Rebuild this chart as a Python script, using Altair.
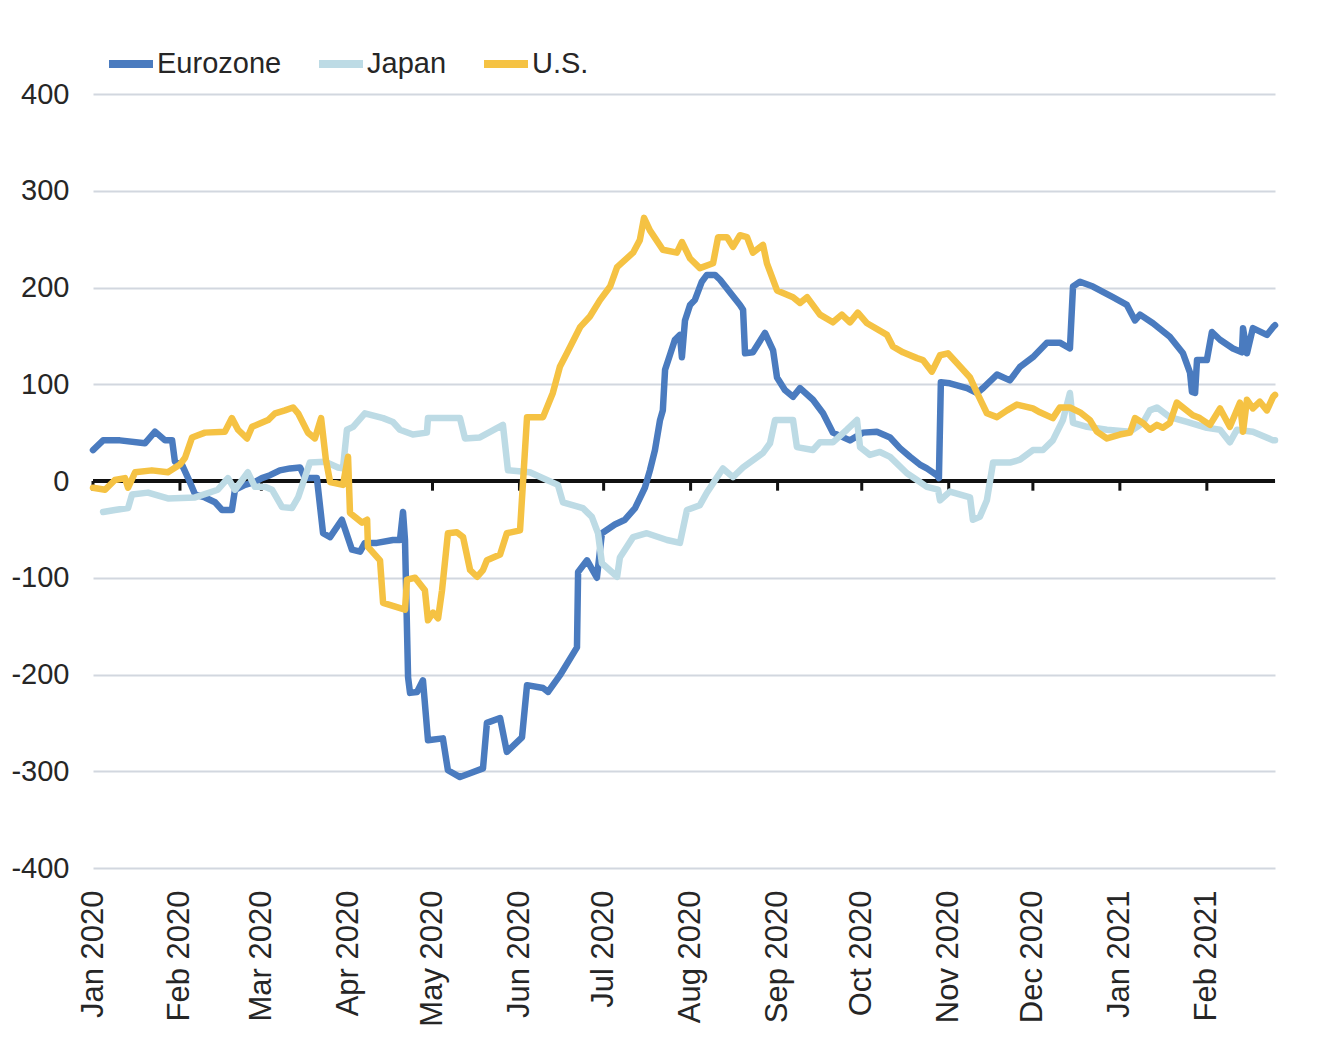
import altair as alt
import pandas as pd

START = pd.Timestamp("2020-01-01")

series_names = ["Eurozone", "Japan", "U.S."]
series_colors = ["#4a7bbf", "#bddbe5", "#f5c243"]

# days since 1 Jan 2020
euro_days = [0.0, 3.6, 9.6, 18.5, 22.1, 25.7, 28.2, 29.2, 31.7, 33.9, 36.4, 39.9, 43.5, 46.0, 49.5, 50.6, 54.2, 57.7, 60.2, 63.1,
             66.6, 70.2, 73.8, 75.6, 79.8, 82.0, 84.5, 88.7, 92.3, 95.2, 96.9, 101.2, 106.9, 109.4, 110.5, 111.2, 112.3, 113.0, 115.5, 117.6,
             119.4, 124.7, 126.5, 130.8, 134.4, 139.0, 140.4, 145.1, 147.5, 152.9, 154.7, 160.4, 162.2, 166.4, 172.5, 172.9, 176.1, 179.6, 181.4, 186.0,
             189.6, 193.2, 196.7, 198.5, 200.3, 202.1, 203.1, 203.9, 205.6, 207.4, 209.2, 209.9, 211.0, 212.8, 214.5, 217.0, 218.8, 221.7, 223.5, 227.0,
             230.6, 231.7, 232.4, 235.2, 239.5, 242.4, 243.8, 246.6, 249.5, 252.0, 256.6, 260.2, 263.7, 269.8, 274.4, 279.4, 284.1, 287.6, 291.2, 294.7,
             297.2, 300.8, 301.5, 302.2, 305.4, 311.5, 315.1, 317.2, 322.2, 326.8, 330.4, 335.0, 340.0, 344.6, 348.2, 349.3, 351.8, 356.4, 363.5, 368.5,
             371.4, 373.2, 377.8, 383.8, 388.5, 391.0, 391.7, 392.8, 393.5, 397.0, 398.8, 401.7, 406.3, 409.5, 409.9, 411.3, 413.4, 418.4, 420.6, 421.3]
euro_vals = [32, 42, 42, 39, 51, 42, 42, 20, 17, 3, -14, -17, -22, -30, -30, -9, -4, -1, 3, 6,
             11, 13, 14, 3, 3, -54, -58, -40, -71, -73, -64, -64, -61, -61, -32, -61, -203, -219, -218, -206,
             -268, -266, -299, -306, -302, -297, -250, -245, -280, -265, -211, -214, -218, -201, -172, -94, -82, -100, -54, -45,
             -40, -28, -7, 11, 32, 63, 73, 115, 130, 146, 151, 128, 166, 182, 187, 206, 213, 213, 208, 195,
             182, 177, 132, 133, 153, 135, 107, 94, 87, 96, 84, 70, 50, 42, 50, 51, 45, 34, 25, 17,
             13, 6, 3, 102, 101, 96, 91, 96, 110, 104, 118, 128, 143, 143, 137, 201, 206, 201, 190, 182,
             166, 172, 163, 149, 132, 112, 92, 91, 125, 125, 154, 146, 137, 133, 158, 132, 158, 151, 159, 161]

japan_days = [3.6, 7.8, 12.5, 13.9, 19.6, 26.7, 36.4, 44.5, 48.1, 50.6, 55.2, 57.7, 61.3, 63.8, 67.4, 70.9, 73.1, 77.3, 82.7, 87.3,
              89.1, 90.5, 92.7, 96.9, 103.4, 106.9, 109.4, 114.0, 119.0, 119.4, 130.8, 132.6, 137.9, 146.1, 147.9, 155.7, 161.8, 165.7, 167.5, 174.6,
              177.8, 180.0, 181.4, 186.8, 187.8, 192.5, 197.4, 204.6, 209.2, 211.7, 216.3, 218.8, 224.5, 228.1, 231.7, 238.8, 241.3, 243.1, 249.5, 250.9,
              256.6, 259.1, 263.7, 268.7, 272.3, 273.4, 276.9, 280.5, 284.1, 290.1, 293.7, 297.2, 301.2, 301.9, 305.4, 312.6, 313.6, 316.1, 318.6, 320.8,
              326.8, 330.4, 335.0, 338.6, 342.1, 345.7, 348.2, 349.3, 354.3, 361.4, 369.6, 374.2, 376.7, 379.2, 383.8, 389.9, 397.0, 401.7, 405.2, 407.7,
              413.4, 420.6, 421.3]
japan_vals = [-32, -30, -28, -14, -12, -18, -17, -9, 3, -9, 9, -6, -6, -9, -27, -28, -17, 19, 20, 14,
              13, 53, 56, 70, 65, 61, 53, 48, 50, 65, 65, 44, 45, 58, 11, 9, 1, -4, -22, -28,
              -37, -54, -85, -99, -79, -58, -54, -61, -64, -30, -25, -12, 13, 4, 14, 29, 39, 63, 63, 35,
              32, 40, 40, 53, 63, 35, 27, 30, 25, 8, 1, -6, -9, -20, -11, -17, -40, -37, -20, 19,
              19, 22, 32, 32, 42, 63, 91, 60, 56, 53, 51, 60, 73, 76, 66, 61, 55, 53, 40, 53,
              51, 42, 42]

us_days = [0.0, 4.3, 7.8, 11.4, 12.5, 15.0, 21.0, 26.7, 31.0, 32.8, 35.3, 39.9, 47.0, 49.5, 51.7, 54.9, 56.7, 62.4, 64.9, 68.4,
           71.3, 73.1, 76.6, 79.1, 81.3, 83.0, 84.5, 89.1, 90.9, 91.6, 95.9, 97.7, 98.0, 102.3, 103.4, 111.2, 111.9, 114.8, 118.3, 119.4,
           121.2, 123.0, 124.4, 126.5, 129.7, 131.9, 134.4, 136.9, 139.0, 140.4, 145.1, 147.5, 152.2, 154.7, 160.4, 163.9, 166.4, 168.9, 173.6, 177.1,
           180.7, 184.3, 186.8, 192.5, 194.9, 196.4, 198.5, 203.1, 208.1, 209.9, 212.8, 216.3, 221.0, 222.8, 226.0, 228.1, 230.6, 233.1, 235.2, 238.8,
           240.2, 243.8, 249.5, 252.0, 254.5, 259.1, 263.7, 266.9, 269.8, 272.6, 275.9, 283.0, 285.1, 288.7, 293.7, 295.8, 299.0, 301.9, 304.7, 307.9,
           312.6, 315.1, 318.6, 322.2, 325.8, 329.3, 335.0, 337.5, 342.1, 344.6, 348.2, 351.8, 355.3, 357.8, 361.4, 366.0, 369.6, 371.4, 374.2, 376.7,
           379.2, 381.3, 383.8, 386.3, 392.0, 394.5, 398.1, 401.7, 405.2, 408.8, 409.9, 411.3, 413.4, 415.9, 418.4, 420.6, 421.3]
us_vals = [-7, -9, 1, 3, -7, 9, 11, 9, 17, 24, 45, 50, 51, 65, 53, 44, 56, 63, 70, 73,
           76, 70, 50, 44, 65, 22, -1, -4, 25, -33, -43, -40, -68, -82, -126, -133, -102, -100, -113, -144,
           -136, -142, -113, -54, -53, -58, -92, -99, -92, -82, -76, -54, -51, 66, 66, 91, 118, 132, 159, 170,
           187, 201, 221, 236, 249, 272, 259, 239, 236, 247, 230, 220, 225, 252, 252, 242, 254, 252, 236, 244,
           225, 197, 190, 184, 190, 172, 164, 172, 164, 174, 163, 151, 139, 133, 127, 125, 113, 130, 132, 122,
           107, 91, 70, 66, 73, 79, 75, 71, 65, 76, 76, 71, 63, 51, 44, 48, 50, 65, 60, 53,
           58, 55, 60, 81, 68, 65, 58, 75, 56, 81, 51, 84, 75, 82, 73, 87, 89]

month_starts = ["2020-01-01", "2020-02-01", "2020-03-01", "2020-04-01", "2020-05-01", "2020-06-01", "2020-07-01",
                "2020-08-01", "2020-09-01", "2020-10-01", "2020-11-01", "2020-12-01", "2021-01-01", "2021-02-01"]
y_ticks = [-400, -300, -200, -100, 0, 100, 200, 300, 400]

FONT = "Liberation Sans"
TEXT = "#262626"


def frame(days, vals, name):
    return pd.DataFrame({
        "date": START + pd.to_timedelta(days, unit="D"),
        "value": vals,
        "series": name,
    })


frames = [frame(euro_days, euro_vals, "Eurozone"),
          frame(japan_days, japan_vals, "Japan"),
          frame(us_days, us_vals, "U.S.")]

months_df = pd.DataFrame({"date": pd.to_datetime(month_starts)})
month_values = [alt.DateTime(year=int(m[:4]), month=int(m[5:7]), date=1) for m in month_starts]

x_scale = alt.Scale(domain=[alt.DateTime(year=2020, month=1, date=1),
                            alt.DateTime(year=2021, month=2, date=25, hours=7)])
y_scale = alt.Scale(domain=[-400, 400], nice=False)

x_axis = alt.Axis(title=None, format="%b %Y", values=month_values, labelAngle=-90,
                  domain=False, ticks=False, grid=False, labelPadding=22, labelFontSize=31,
                  labelFont=FONT, labelColor=TEXT, labelOverlap=False, labelFlush=False)
y_axis = alt.Axis(title=None, values=y_ticks, domain=False, ticks=False, grid=True,
                  gridColor="#d2d7df", gridWidth=2, labelPadding=24, labelFontSize=29,
                  labelExpr="'' + datum.value",
                  labelFont=FONT, labelColor=TEXT)

color = alt.Color("series:N",
                  scale=alt.Scale(domain=series_names, range=series_colors),
                  legend=alt.Legend(orient="none", legendX=12, legendY=-56, direction="horizontal",
                                    title=None, symbolType="stroke", symbolSize=1936,
                                    symbolStrokeWidth=8, labelFontSize=29, labelFont=FONT,
                                    labelColor=TEXT, labelOffset=0, columnPadding=21, padding=0))

base_grid = alt.Chart(months_df).mark_rule(opacity=0).encode(
    x=alt.X("date:T", scale=x_scale, axis=x_axis),
    y=alt.datum(0, scale=y_scale, axis=y_axis),
)

zero_line = alt.Chart(months_df).mark_rule(color="#111111", strokeWidth=3).encode(
    y=alt.datum(0),
)

tick_marks = alt.Chart(months_df).mark_rule(color="#111111", strokeWidth=3).encode(
    x=alt.X("date:T"),
    y=alt.datum(0),
    y2=alt.datum(-10),
)

lines = [
    alt.Chart(df).mark_line(strokeWidth=6.5, strokeJoin="round", strokeCap="round").encode(
        x=alt.X("date:T"),
        y=alt.Y("value:Q"),
        color=color,
    )
    for df in frames
]

chart = alt.layer(base_grid, zero_line, tick_marks, *lines).properties(
    width=1182,
    height=774,
    background="white",
    autosize=alt.AutoSizeParams(type="none"),
    padding={"left": 85, "top": 86, "right": 43, "bottom": 176},
).configure_view(strokeWidth=0, stroke="transparent")

chart.save("out.html", embed_options={"renderer": "svg", "actions": False})
